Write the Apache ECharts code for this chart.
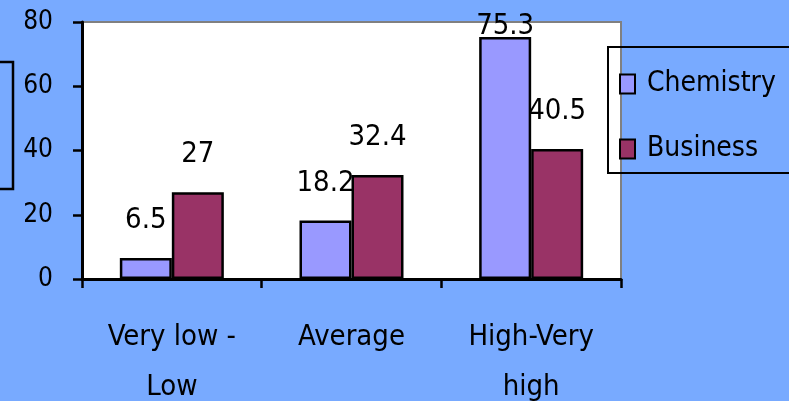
<!DOCTYPE html>
<html>
<head>
<meta charset="utf-8">
<script src="https://cdn.jsdelivr.net/npm/echarts@6/dist/echarts.min.js"></script>
<style>
html,body{margin:0;padding:0;background:#78AAFF;}
#chart{width:789px;height:401px;}
</style>
</head>
<body>
<div id="chart"></div>
<script>
var categories = ['Very low -\nLow', 'Average', 'High-Very\nhigh'];
var seriesNames = ['Chemistry', 'Business'];
var chemistry = [6.5, 18.2, 75.3];
var business = [27, 32.4, 40.5];
var yTicks = { min: 0, max: 80, interval: 20 };

var FONT = '"DejaVu Sans Condensed", "DejaVu Sans", sans-serif';
var colors = ['#9999FF', '#993366'];

function makeData(vals) {
  return vals.map(function (v) {
    return { value: v, label: { distance: v > 70 ? 0 : 27 } };
  });
}

var chart = echarts.init(document.getElementById('chart'));
chart.setOption({
  backgroundColor: '#78AAFF',
  animation: false,
  textStyle: { fontFamily: FONT },
  grid: {
    left: 82, top: 22, right: 168, bottom: 122,
    outerBoundsMode: 'none',
    containLabel: false,
    show: true, backgroundColor: '#ffffff', borderColor: '#808080', borderWidth: 2
  },
  legend: {
    orient: 'vertical',
    left: 608, top: 47,
    padding: [23, 160, 10, 11],
    itemGap: 37,
    itemWidth: 15, itemHeight: 19,
    icon: 'rect',
    borderColor: '#000', borderWidth: 2,
    textStyle: { fontSize: 28, color: '#000', fontFamily: FONT, padding: [0, 0, 0, 7] },
    data: seriesNames
  },
  graphic: [{
    type: 'rect', shape: { x: -20, y: 62, width: 33, height: 127 },
    style: { fill: 'transparent', stroke: '#000', lineWidth: 2.5 }
  }],
  xAxis: {
    type: 'category',
    data: categories,
    axisLine: { lineStyle: { color: '#000', width: 3 } },
    axisTick: { show: true, length: 9, lineStyle: { color: '#000', width: 2.5 } },
    axisLabel: { fontSize: 29, color: '#000', fontFamily: FONT, lineHeight: 50, margin: 33, interval: 0 }
  },
  yAxis: {
    type: 'value',
    min: yTicks.min, max: yTicks.max, interval: yTicks.interval,
    axisLine: { show: true, lineStyle: { color: '#000', width: 3 } },
    axisTick: { show: true, length: 9, lineStyle: { color: '#000', width: 2.5 } },
    splitLine: { show: false },
    axisLabel: { fontSize: 26, color: '#000', fontFamily: FONT, margin: 29 }
  },
  series: [
    {
      name: seriesNames[0], type: 'bar', data: makeData(chemistry),
      barWidth: 52, barGap: '0%',
      itemStyle: { color: colors[0], borderColor: '#000', borderWidth: 2.5 },
      label: { show: true, position: 'top', offset: [0, 4], fontSize: 29, color: '#000', fontFamily: FONT }
    },
    {
      name: seriesNames[1], type: 'bar', data: makeData(business),
      barWidth: 52, barGap: '0%',
      itemStyle: { color: colors[1], borderColor: '#000', borderWidth: 2.5 },
      label: { show: true, position: 'top', offset: [0, 4], fontSize: 29, color: '#000', fontFamily: FONT }
    }
  ]
});
</script>
</body>
</html>
